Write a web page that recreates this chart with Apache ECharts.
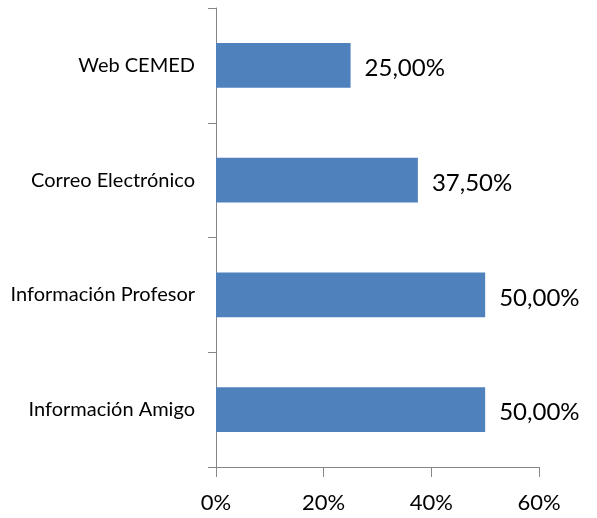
<!DOCTYPE html>
<html>
<head>
<meta charset="utf-8">
<script src="https://cdn.jsdelivr.net/npm/echarts@6/dist/echarts.min.js"></script>
<style>
html, body { margin: 0; padding: 0; background: #fff; }
#chart { width: 597px; height: 518px; }
</style>
</head>
<body>
<div id="chart"></div>
<script>
var categories = ['Web CEMED', 'Correo Electrónico', 'Información Profesor', 'Información Amigo'];
var values = [25, 37.5, 50, 50];
var xTicks = [0, 20, 40, 60];

var axisColor = '#868686';
var barColor = '#4F81BD';
var font = 'Lato';

var option = {
    animation: false,
    grid: {
        left: 216,
        right: 58,
        top: 8,
        bottom: 51
    },
    xAxis: {
        type: 'value',
        min: xTicks[0],
        max: xTicks[xTicks.length - 1],
        interval: 20,
        axisLine: { show: true, lineStyle: { color: axisColor, width: 1 } },
        axisTick: { show: true, length: 10, lineStyle: { color: axisColor } },
        splitLine: { show: false },
        axisLabel: {
            margin: 25,
            fontSize: 22,
            fontFamily: font,
            color: '#000',
            formatter: '{value}%'
        }
    },
    yAxis: {
        type: 'category',
        inverse: true,
        data: categories,
        axisLine: { show: true, lineStyle: { color: axisColor, width: 1 } },
        axisTick: { show: true, length: 8, lineStyle: { color: axisColor } },
        axisLabel: {
            margin: 21,
            fontSize: 20,
            fontFamily: font,
            color: '#000'
        }
    },
    series: [{
        type: 'bar',
        data: values,
        barWidth: '39%',
        itemStyle: { color: barColor },
        label: {
            show: true,
            position: 'right',
            distance: 14,
            offset: [0, 3],
            fontSize: 24,
            fontFamily: font,
            color: '#000',
            formatter: function (p) {
                return p.value.toFixed(2).replace('.', ',') + '%';
            }
        }
    }]
};

var myChart = echarts.init(document.getElementById('chart'));
myChart.setOption(option);
</script>
</body>
</html>
